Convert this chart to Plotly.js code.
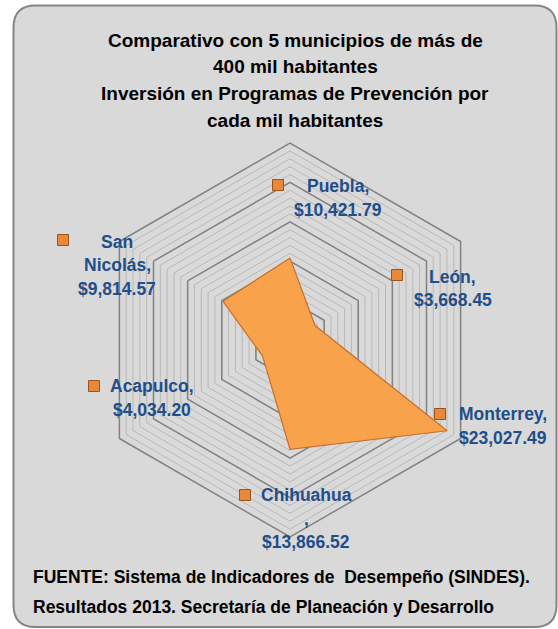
<!DOCTYPE html>
<html>
<head>
<meta charset="utf-8">
<script src="https://cdn.plot.ly/plotly-3.0.1.min.js"></script>
<style>html,body{margin:0;padding:0;background:#fff;}#chart{width:558px;height:629px;}</style>
</head>
<body>
<div id="chart"></div>
<script>
// ---- data ----
var categories = ['Puebla', 'León', 'Monterrey', 'Chihuahua', 'Acapulco', 'San Nicolás'];
var values = [10421.79, 3668.45, 23027.49, 13866.52, 4034.20, 9814.57];
// how the category name is wrapped in each label (lines)
var labelNameLines = [['Puebla,'], ['León,'], ['Monterrey,'], ['Chihuahua', ','], ['Acapulco,'], ['San', 'Nicolás,']];
var titleLines = ['Comparativo con 5 municipios de más de', '400 mil habitantes', 'Inversión en Programas de Prevención por', 'cada mil habitantes'];
var sourceLines = ['FUENTE: Sistema de Indicadores de  Desempeño (SINDES).', 'Resultados 2013. Secretaría de Planeación y Desarrollo'];
var radialMax = 25000, minorStep = 1000, majorStep = 5000;

// ---- layout positions (pixels in the 558x629 page) ----
var W = 558, H = 629;
var labelCenterX = [338, 453, 503, 306, 152, 117];
var labelFirstLineY = [186, 277, 414, 495, 386, 242];
var labelLineGap = 23.5;
var markerPos = [[278, 185], [397, 275], [440, 414], [245, 495], [94, 386], [63, 240]];

var FONT = '"Liberation Sans", Arial, sans-serif';
var BLUE = '#1F4E8A';

function fmt(v) {
  var parts = v.toFixed(2).split('.');
  parts[0] = parts[0].replace(/\B(?=(\d{3})+(?!\d))/g, ',');
  return '$' + parts.join('.');
}
function px(x) { return x / W; }
function py(y) { return 1 - y / H; }

var polarDomain = {x: [px(290 - 197), px(290 + 197)], y: [py(340 + 197), py(340 - 197)]};

var closedTheta = categories.concat([categories[0]]);
var closedR = values.concat([values[0]]);

var traces = [
  { // anchor trace for the minor grid subplot
    type: 'scatterpolar', subplot: 'polar', r: values.map(function(){return 0;}), theta: categories,
    mode: 'markers', marker: {opacity: 0}, hoverinfo: 'skip', showlegend: false
  },
  {
    type: 'scatterpolar', subplot: 'polar2', r: closedR, theta: closedTheta,
    mode: 'lines', fill: 'toself', fillcolor: '#F9A24C',
    line: {color: '#C8702A', width: 1.2}, hoverinfo: 'skip', showlegend: false
  }
];

function polarCfg(showMinor) {
  return {
    domain: polarDomain,
    bgcolor: 'rgba(0,0,0,0)',
    gridshape: 'linear',
    radialaxis: {
      range: [0, radialMax], dtick: showMinor ? minorStep : majorStep, tick0: 0,
      showticklabels: false, ticks: '', showline: false,
      gridcolor: showMinor ? '#B8B8B8' : '#828282', gridwidth: showMinor ? 1 : 1.5
    },
    angularaxis: {
      rotation: 90, direction: 'clockwise', showgrid: false, showticklabels: false, ticks: '',
      showline: !showMinor, linecolor: '#828282', linewidth: 1.5,
      categoryorder: 'array', categoryarray: categories
    }
  };
}

var annotations = [];
categories.forEach(function(c, i) {
  var lines = labelNameLines[i].concat([fmt(values[i])]);
  lines.forEach(function(t, k) {
    annotations.push({
      xref: 'paper', yref: 'paper', x: px(labelCenterX[i]), y: py(labelFirstLineY[i] + k * labelLineGap),
      xanchor: 'center', yanchor: 'middle', showarrow: false, text: t,
      font: {family: FONT, size: 17.5, color: BLUE, weight: 'bold'}
    });
  });
});
titleLines.forEach(function(t, k) {
  annotations.push({
    xref: 'paper', yref: 'paper', x: px(295), y: py(40 + k * 26.8),
    xanchor: 'center', yanchor: 'middle', showarrow: false, text: t,
    font: {family: FONT, size: 19, color: '#000', weight: 'bold'}
  });
});
sourceLines.forEach(function(t, k) {
  annotations.push({
    xref: 'paper', yref: 'paper', x: px(31), y: py(577 + k * 30),
    xanchor: 'left', yanchor: 'middle', showarrow: false, text: t,
    font: {family: FONT, size: 17.5, color: '#000', weight: 'bold'}
  });
});

var shapes = [{
  type: 'path', xref: 'paper', yref: 'paper', layer: 'below',
  path: (function() {
    var x0 = px(13.5), x1 = px(556.5), y0 = py(5.5), y1 = py(627), rx = 22 / W, ry = 22 / H;
    return 'M' + (x0 + rx) + ',' + y0 + ' L' + (x1 - rx) + ',' + y0 +
      ' Q' + x1 + ',' + y0 + ' ' + x1 + ',' + (y0 - ry) +
      ' L' + x1 + ',' + (y1 + ry) + ' Q' + x1 + ',' + y1 + ' ' + (x1 - rx) + ',' + y1 +
      ' L' + (x0 + rx) + ',' + y1 + ' Q' + x0 + ',' + y1 + ' ' + x0 + ',' + (y1 + ry) +
      ' L' + x0 + ',' + (y0 - ry) + ' Q' + x0 + ',' + y0 + ' ' + (x0 + rx) + ',' + y0 + ' Z';
  })(),
  fillcolor: '#D9D9D9', line: {color: '#858585', width: 2}
}];
markerPos.forEach(function(p) {
  shapes.push({
    type: 'rect', xref: 'paper', yref: 'paper', layer: 'above',
    x0: px(p[0] - 5.5), x1: px(p[0] + 5.5), y0: py(p[1] + 5.5), y1: py(p[1] - 5.5),
    fillcolor: '#E8893A', line: {color: '#9A531C', width: 1}
  });
});

var layout = {
  width: W, height: H,
  margin: {l: 0, r: 0, t: 0, b: 0},
  paper_bgcolor: '#FFFFFF',
  showlegend: false,
  polar: polarCfg(true),
  polar2: polarCfg(false),
  annotations: annotations,
  shapes: shapes
};

Plotly.newPlot('chart', traces, layout, {displayModeBar: false, staticPlot: true});
</script>
</body>
</html>
